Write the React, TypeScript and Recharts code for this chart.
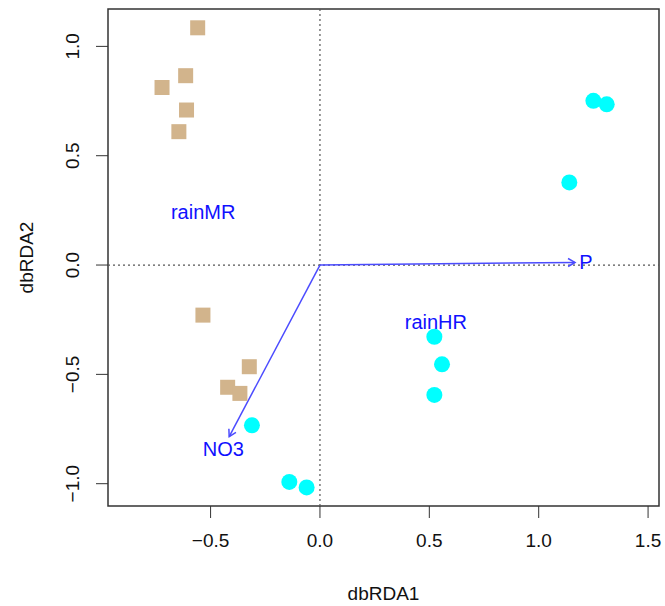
import React from 'react';
import {
  ScatterChart,
  Scatter,
  XAxis,
  YAxis,
  ReferenceLine,
  ReferenceArea,
  Label,
} from 'recharts';

// site scores, rainMR treatment (squares)
const rainMRx = [-0.559, -0.614, -0.722, -0.61, -0.645, -0.535, -0.323, -0.422, -0.366];
const rainMRy = [1.085, 0.866, 0.812, 0.709, 0.61, -0.229, -0.465, -0.559, -0.587];

// site scores, rainHR treatment (circles)
const rainHRx = [1.25, 1.311, 1.14, -0.311, -0.14, -0.061, 0.523, 0.558, 0.523];
const rainHRy = [0.751, 0.735, 0.378, -0.733, -0.992, -1.017, -0.328, -0.454, -0.594];

// biplot arrows
const arrowNames = ['P', 'NO3'];
const arrowX = [1.166, -0.415];
const arrowY = [0.012, -0.785];

// text labels (centroids + arrow names)
const labelText = ['rainMR', 'rainHR', 'NO3', 'P'];
const labelX = [-0.534, 0.53, -0.442, 1.216];
const labelY = [0.244, -0.259, -0.841, 0.014];

const xTicks = [-0.5, 0, 0.5, 1, 1.5];
const yTicks = [-1, -0.5, 0, 0.5, 1];
const xDomain: [number, number] = [-0.969, 1.55];
const yDomain: [number, number] = [-1.102, 1.171];

const FONT = '"Liberation Sans", Arial, Helvetica, sans-serif';

const mrData = rainMRx.map((x, i) => ({ x, y: rainMRy[i] }));
const hrData = rainHRx.map((x, i) => ({ x, y: rainHRy[i] }));
const labelData = labelText.map((t, i) => ({ x: labelX[i], y: labelY[i], t }));

const fmt = (v: number) => v.toFixed(1).replace('-', '\u2212');

const XTick = (props: any) => (
  <text
    x={props.x}
    y={props.y}
    textAnchor="middle"
    dominantBaseline="central"
    fontSize={19}
    fontFamily={FONT}
    fill="#111"
  >
    {fmt(props.payload.value)}
  </text>
);

const YTick = (props: any) => (
  <text
    x={props.x}
    y={props.y}
    transform={`rotate(-90, ${props.x}, ${props.y})`}
    textAnchor="middle"
    dominantBaseline="central"
    fontSize={19}
    fontFamily={FONT}
    fill="#111"
  >
    {fmt(props.payload.value)}
  </text>
);

const Square = (props: any) => (
  <rect x={props.cx - 7.5} y={props.cy - 7.5} width={15} height={15} fill="#D2B48C" />
);

const Dot = (props: any) => <circle cx={props.cx} cy={props.cy} r={8} fill="#00FFFF" />;

const TextMark = (props: any) => (
  <text
    x={props.cx}
    y={props.cy}
    textAnchor="middle"
    dominantBaseline="central"
    fontSize={20}
    fontFamily={FONT}
    fill="#1010FF"
  >
    {props.payload.t}
  </text>
);

const Arrow = (props: any) => {
  const { x1, y1, x2, y2 } = props;
  const a = Math.atan2(y2 - y1, x2 - x1);
  const len = 8;
  const spread = Math.PI / 6;
  const hx1 = x2 - len * Math.cos(a - spread);
  const hy1 = y2 - len * Math.sin(a - spread);
  const hx2 = x2 - len * Math.cos(a + spread);
  const hy2 = y2 - len * Math.sin(a + spread);
  return (
    <g stroke="#4B4BFF" strokeWidth={1.5} fill="none">
      <line x1={x1} y1={y1} x2={x2} y2={y2} />
      <path d={`M${hx1},${hy1} L${x2},${y2} L${hx2},${hy2}`} />
    </g>
  );
};

export default function App() {
  return (
    <div style={{ position: 'absolute', left: 0, top: 0, background: '#fff' }}>
      <ScatterChart width={665} height={606} margin={{ top: 9, right: 6, left: 0, bottom: 0 }}>
        <XAxis
          type="number"
          dataKey="x"
          domain={xDomain}
          ticks={xTicks}
          allowDataOverflow
          height={100}
          axisLine={false}
          tickSize={12}
          tickMargin={22}
          tickLine={{ stroke: '#333', strokeWidth: 1 }}
          tick={<XTick />}
        >
          <Label
            content={(p: any) => (
              <text
                x={p.viewBox.x + p.viewBox.width / 2}
                y={p.viewBox.y + 87}
                textAnchor="middle"
                dominantBaseline="central"
                fontSize={19}
                fontFamily={FONT}
                fill="#111"
              >
                dbRDA1
              </text>
            )}
          />
        </XAxis>
        <YAxis
          type="number"
          dataKey="y"
          domain={yDomain}
          ticks={yTicks}
          allowDataOverflow
          width={108}
          axisLine={false}
          tickSize={12}
          tickMargin={23}
          tickLine={{ stroke: '#333', strokeWidth: 1 }}
          tick={<YTick />}
        >
          <Label
            content={(p: any) => {
              const cx = p.viewBox.x + 26;
              const cy = p.viewBox.y + p.viewBox.height / 2;
              return (
                <text
                  x={cx}
                  y={cy}
                  transform={`rotate(-90, ${cx}, ${cy})`}
                  textAnchor="middle"
                  dominantBaseline="central"
                  fontSize={19}
                  fontFamily={FONT}
                  fill="#111"
                >
                  dbRDA2
                </text>
              );
            }}
          />
        </YAxis>
        <ReferenceLine x={0} stroke="#555" strokeDasharray="2 3" strokeWidth={1.2} />
        <ReferenceLine y={0} stroke="#555" strokeDasharray="2 3" strokeWidth={1.2} />
        <Scatter data={mrData} shape={<Square />} isAnimationActive={false} />
        <Scatter data={hrData} shape={<Dot />} isAnimationActive={false} />
        {arrowNames.map((n, i) => (
          <ReferenceLine
            key={n}
            segment={[
              { x: 0, y: 0 },
              { x: arrowX[i], y: arrowY[i] },
            ]}
            shape={<Arrow />}
          />
        ))}
        <Scatter data={labelData} shape={<TextMark />} isAnimationActive={false} />
        <ReferenceArea
          x1={xDomain[0]}
          x2={xDomain[1]}
          y1={yDomain[0]}
          y2={yDomain[1]}
          fill="none"
          stroke="#333"
          strokeWidth={1.5}
          ifOverflow="visible"
        />
      </ScatterChart>
    </div>
  );
}
